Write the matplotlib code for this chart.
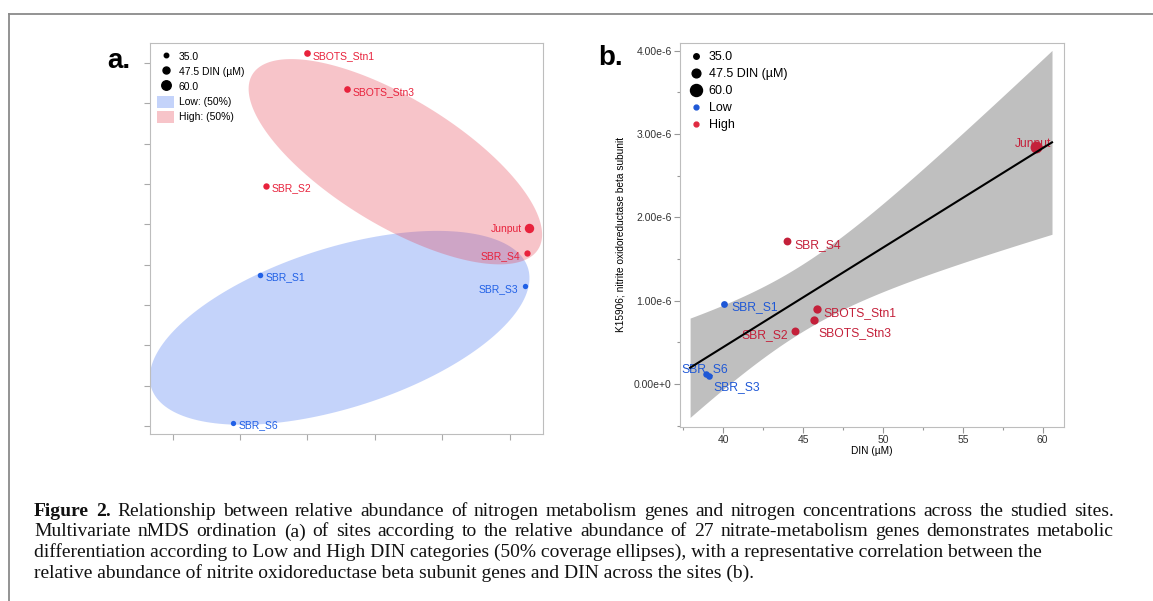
import numpy as np
import matplotlib.pyplot as plt
from matplotlib.lines import Line2D
from matplotlib.patches import Patch
from matplotlib.ticker import FuncFormatter, MultipleLocator

plt.rcParams['font.family'] = ['Liberation Sans', 'DejaVu Sans']

# site data
sites = ['SBOTS_Stn1', 'SBOTS_Stn3', 'SBR_S2', 'Junput', 'SBR_S4', 'SBR_S1', 'SBR_S3', 'SBR_S6']
din_group = ['High', 'High', 'High', 'High', 'High', 'Low', 'Low', 'Low']
nmds1 = [0.000, 0.059, -0.062, 0.329, 0.326, -0.070, 0.323, -0.110]
nmds2 = [0.525, 0.436, 0.196, 0.091, 0.029, -0.025, -0.053, -0.392]
din = [45.84, 45.70, 44.47, 59.58, 44.01, 40.04, 39.10, 38.90]
k15906 = [0.896e-6, 0.764e-6, 0.636e-6, 2.85e-6, 1.72e-6, 0.96e-6, 0.10e-6, 0.116e-6]
legend_din = [35.0, 47.5, 60.0]

# label placement (offset in points, horizontal alignment)
lab_a = {'SBOTS_Stn1': (4, -2, 'left'), 'SBOTS_Stn3': (4, -2, 'left'), 'SBR_S2': (4, -2, 'left'),
         'Junput': (-5, -1, 'right'), 'SBR_S4': (-5, -2, 'right'), 'SBR_S1': (4, -2, 'left'),
         'SBR_S3': (-5, -2, 'right'), 'SBR_S6': (4, -2, 'left')}
lab_b = {'SBOTS_Stn1': (5, -3, 'left'), 'SBOTS_Stn3': (3, -9, 'left'), 'SBR_S2': (-5, -3, 'right'),
         'Junput': (-2, 2, 'center'), 'SBR_S4': (5, -3, 'left'), 'SBR_S1': (5, -2, 'left'),
         'SBR_S3': (3, -8, 'left'), 'SBR_S6': (-1, 4, 'center')}

col_a = {'High': '#e8223c', 'Low': '#2060e6'}
col_b = {'High': '#c4203a', 'Low': '#1f58d6'}
fill = {'High': (0.90, 0.24, 0.31, 0.30), 'Low': (0.24, 0.43, 0.94, 0.30)}

caption = [
    ('Figure 2. Relationship between relative abundance of nitrogen metabolism genes and nitrogen '
     'concentrations across the studied sites.', True),
    ('Multivariate nMDS ordination (a) of sites according to the relative abundance of 27 '
     'nitrate-metabolism genes demonstrates metabolic', True),
    ('differentiation according to Low and High DIN categories (50% coverage ellipses), '
     'with a representative correlation between the', False),
    ('relative abundance of nitrite oxidoreductase beta subunit genes and DIN across the sites (b).', False),
]


def size_a(d):
    px = 4.5 + (np.asarray(d) - 35) / 25 * 5
    return px * 0.72


def size_b(d):
    px = 5.5 + (np.asarray(d) - 35) / 25 * 6.5
    return px * 0.72


def ellipse(x, y, p=0.5, n=200):
    x = np.asarray(x)
    y = np.asarray(y)
    cov = np.cov(x, y) * (-2 * np.log(1 - p))
    vals, vecs = np.linalg.eigh(cov)
    t = np.linspace(0, 2 * np.pi, n)
    pts = vecs @ (np.sqrt(vals)[:, None] * np.vstack([np.cos(t), np.sin(t)]))
    return x.mean() + pts[0], y.mean() + pts[1]


fig = plt.figure(figsize=(11.53, 6.01), dpi=100)

# frame + caption
bg = fig.add_axes([0, 0, 1, 1])
bg.set_xlim(0, 1153)
bg.set_ylim(601, 0)
bg.axis('off')
bg.plot([9, 1153], [14, 14], color='#8a8a8a', lw=1.3)
bg.plot([9, 9], [14, 601], color='#8a8a8a', lw=1.3)

cap_font = dict(family=['Liberation Serif', 'DejaVu Serif'], fontsize=14, color='#111111')
renderer = fig.canvas.get_renderer()
x0, x1 = 34, 1114
for i, (line, justify) in enumerate(caption):
    y = 516 + i * 20.5
    if not justify:
        bg.text(x0, y, line, va='baseline', **cap_font)
        continue
    words = line.split(' ')
    objs = []
    for j, w in enumerate(words):
        bold = i == 0 and j < 2
        objs.append(bg.text(0, y, w, va='baseline', fontweight='bold' if bold else 'normal', **cap_font))
    widths = [o.get_window_extent(renderer).width for o in objs]
    gap = (x1 - x0 - sum(widths)) / (len(words) - 1)
    x = x0
    for o, w in zip(objs, widths):
        o.set_x(x)
        x += w + gap

# ---- panel a
axa = fig.add_axes([0.1301, 0.2779, 0.3408, 0.6506])
for g in ['Low', 'High']:
    idx = [i for i in range(len(sites)) if din_group[i] == g]
    ex, ey = ellipse([nmds1[i] for i in idx], [nmds2[i] for i in idx])
    axa.fill(ex, ey, color=fill[g], lw=0, zorder=1)
for i, s in enumerate(sites):
    c = col_a[din_group[i]]
    axa.plot(nmds1[i], nmds2[i], 'o', ms=size_a(din[i]), color=c, mec='none', zorder=3)
    dx, dy, ha = lab_a[s]
    axa.annotate(s, (nmds1[i], nmds2[i]), xytext=(dx, dy), textcoords='offset points',
                 ha=ha, va='center', fontsize=7.5, color=c, zorder=2)
axa.set_xlim(-0.2337, 0.3494)
axa.set_ylim(-0.42, 0.55)
axa.set_xticks(np.arange(-0.2, 0.31, 0.1))
axa.set_yticks(np.arange(-0.4, 0.51, 0.1))
axa.tick_params(labelbottom=False, labelleft=False, length=4, color='#aaaaaa', width=0.8)
for sp in axa.spines.values():
    sp.set_color('#bdbdbd')

h_a = [Line2D([], [], ls='', marker='o', color='black', ms=size_a(v)) for v in legend_din]
h_a += [Patch(facecolor=fill['Low'], edgecolor='none'), Patch(facecolor=fill['High'], edgecolor='none')]
axa.legend(h_a, ['35.0', '47.5 DIN (µM)', '60.0', 'Low: (50%)', 'High: (50%)'],
           loc='upper left', bbox_to_anchor=(0.0, 1.0), frameon=False, fontsize=7.5,
           handlelength=1.6, handleheight=1.4, handletextpad=0.45, labelspacing=0.3,
           borderaxespad=0.3)

axa.text(-0.05, 0.955, 'a.', transform=axa.transAxes, fontsize=20, fontweight='bold',
         ha='right', va='center')

# ---- panel b
axb = fig.add_axes([0.5898, 0.2900, 0.3330, 0.6390])
xb = np.array(din)
yb = np.array(k15906)
n = len(xb)
slope, icpt = np.polyfit(xb, yb, 1)
xx = np.linspace(37.92, 60.58, 200)
fit = slope * xx + icpt
res = yb - (slope * xb + icpt)
sres = np.sqrt((res ** 2).sum() / (n - 2))
se = sres * np.sqrt(1 / n + (xx - xb.mean()) ** 2 / ((xb - xb.mean()) ** 2).sum())
tval = 2.447  # t(0.975, df=6)
axb.fill_between(xx, fit - tval * se, fit + tval * se, color='#bfbfbf', lw=0, zorder=1)
axb.plot(xx, fit, color='black', lw=1.5, zorder=4)
for i, s in enumerate(sites):
    c = col_b[din_group[i]]
    axb.plot(din[i], k15906[i], 'o', ms=size_b(din[i]), color=c, mec='none', zorder=3)
    dx, dy, ha = lab_b[s]
    axb.annotate(s, (din[i], k15906[i]), xytext=(dx, dy), textcoords='offset points',
                 ha=ha, va='center', fontsize=8.7, color=c, zorder=2)
axb.set_xlim(37.29, 61.33)
axb.set_ylim(-0.512e-6, 4.096e-6)
axb.xaxis.set_major_locator(MultipleLocator(5))
axb.xaxis.set_minor_locator(MultipleLocator(2.5))
axb.yaxis.set_major_locator(MultipleLocator(1e-6))
axb.yaxis.set_minor_locator(MultipleLocator(0.5e-6))
axb.yaxis.set_major_formatter(FuncFormatter(lambda v, p: '0.00e+0' if abs(v) < 1e-12 else f'{v * 1e6:.2f}e-6'))
axb.tick_params(which='major', length=4, color='#999999', width=0.8, labelsize=7.5, labelcolor='#333333', pad=2)
axb.tick_params(which='minor', length=2.5, color='#999999', width=0.8)
for sp in axb.spines.values():
    sp.set_color('#bdbdbd')
axb.set_xlabel('DIN (µM)', fontsize=7.3, labelpad=1)
axb.set_ylabel('K15906; nitrite oxidoreductase beta subunit', fontsize=7.3, labelpad=6)

h_b = [Line2D([], [], ls='', marker='o', color='black', ms=size_b(v)) for v in legend_din]
h_b += [Line2D([], [], ls='', marker='o', color=col_b['Low'], ms=3.5),
        Line2D([], [], ls='', marker='o', color='#e02a40', ms=3.5)]
axb.legend(h_b, ['35.0', '47.5 DIN (µM)', '60.0', 'Low', 'High'],
           loc='upper left', bbox_to_anchor=(0.0, 1.0), frameon=False, fontsize=9,
           handlelength=1.2, handletextpad=0.4, labelspacing=0.4, borderaxespad=0.3)

axb.text(-0.148, 0.96, 'b.', transform=axb.transAxes, fontsize=20, fontweight='bold',
         ha='right', va='center')

fig.savefig('out.png', dpi=100)
